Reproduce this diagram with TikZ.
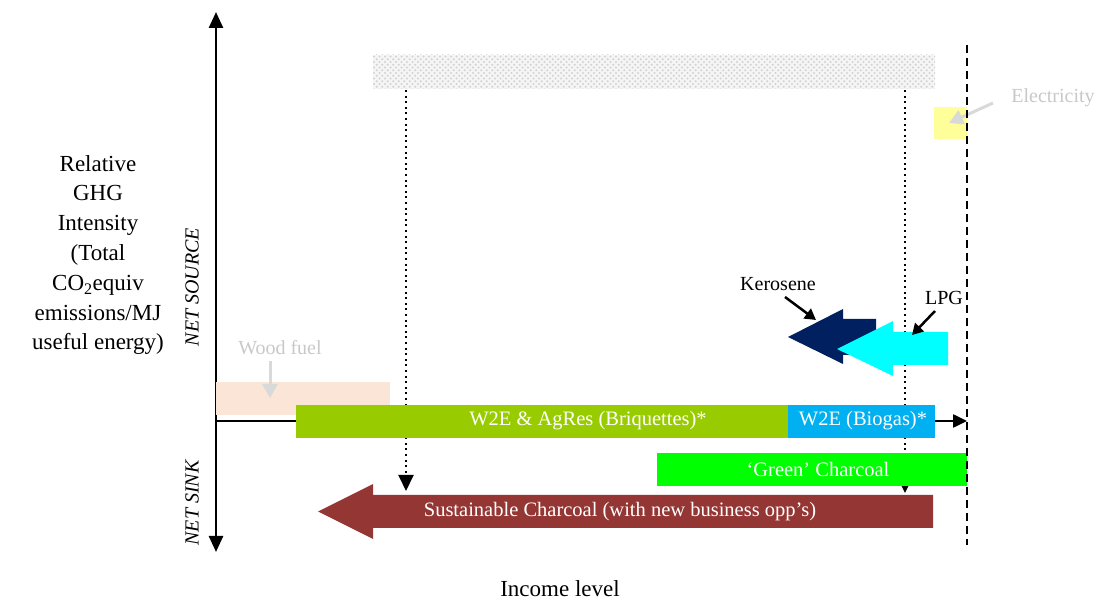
\documentclass[tikz,border=0pt]{standalone}
\usepackage{fontspec}
\setmainfont{Liberation Serif}
\usetikzlibrary{arrows.meta,patterns}
\definecolor{peach}{HTML}{FBE5D6}
\definecolor{elecyellow}{HTML}{FFFF99}
\definecolor{briqgreen}{HTML}{99CC00}
\definecolor{biogasblue}{HTML}{00B0F0}
\definecolor{greenchar}{HTML}{00FF00}
\definecolor{susbrown}{HTML}{943634}
\definecolor{keronavy}{HTML}{002060}
\definecolor{lpgcyan}{HTML}{00FFFF}
\definecolor{faintgray}{HTML}{C8C8C8}
\definecolor{arrowgray}{HTML}{D9D9D9}
\pgfdeclarepatternformonly{bigdots}{\pgfqpoint{-1pt}{-1pt}}{\pgfqpoint{6pt}{6pt}}{\pgfqpoint{5.5pt}{5.5pt}}{%
  \pgfpathcircle{\pgfqpoint{0pt}{0pt}}{1.1pt}\pgfusepath{fill}%
  \pgfpathcircle{\pgfqpoint{2.75pt}{2.75pt}}{1.1pt}\pgfusepath{fill}}
\tikzset{
  barbox/.style={draw=none, inner sep=0pt, outer sep=0pt, anchor=north west},
  bartext/.style={text=white, font=\fontsize{20.5}{24}\selectfont, inner sep=0pt},
  lbl/.style={font=\fontsize{20}{24}\selectfont, inner sep=0pt},
  faintlbl/.style={lbl, text=faintgray},
  axisline/.style={line width=2.5pt, -{Triangle[length=16pt,width=14pt]}},
  blackptr/.style={line width=2.5pt, -{Triangle[length=11pt,width=12pt]}},
  grayptr/.style={line width=3pt, draw=arrowgray, -{Triangle[length=14pt,width=15pt]}, arrowgray},
  dotline/.style={line width=2pt, dash pattern=on 2pt off 3.6pt, -{Triangle[length=16pt,width=15pt]}},
  dashline/.style={line width=2pt, dash pattern=on 8pt off 5pt},
}
\begin{document}
\begin{tikzpicture}[x=1pt,y=-1pt]
\useasboundingbox (0,0) rectangle (1096,601);

% axes
\coordinate (vtop) at (216,12);
\coordinate (vbot) at (216,552);
\coordinate (vmid) at (216,300);
\draw[axisline] (vmid) -- (vtop);
\draw[axisline] (vmid) -- (vbot);

% hatched band
\node[barbox, minimum width=562pt, minimum height=34pt, fill=gray!8] (bandbg) at (373,55) {};
\node[barbox, minimum width=562pt, minimum height=34pt, pattern=bigdots, pattern color=gray!35] (band) at (373,55) {};

% dotted lines
\coordinate (d1a) at (406,90);
\coordinate (d1b) at (406,491);
\coordinate (d2a) at (905,90);
\coordinate (d2b) at (905,493);
\draw[dotline] (d1a) -- (d1b);
\draw[dotline] (d2a) -- (d2b);

% dashed line
\coordinate (dsa) at (967,45);
\coordinate (dsb) at (967,545);

% wood fuel
\node[barbox, fill=peach, minimum width=174pt, minimum height=33pt] (wood) at (216,382) {};
\node[faintlbl] (woodlbl) at (280,348) {Wood fuel};
\coordinate (woodtip) at (270,398);
\draw[grayptr] (270,361) -- (woodtip);

% horizontal line
\coordinate (h0) at (216,421);
\coordinate (hend) at (967,421);
\draw[line width=2.5pt, -{Triangle[length=14pt,width=13pt]}] (h0) -- (hend);

% electricity
\node[barbox, fill=elecyellow, minimum width=33pt, minimum height=32pt] (elec) at (934,107) {};
\node[faintlbl] (eleclbl) at (1053,98) {Electricity};
\coordinate (electip) at (949,123);
\draw[grayptr] (993,103) -- (electip);

% bars
\node[barbox, fill=briqgreen, minimum width=492pt, minimum height=33pt] (briq) at (296,405) {};
\node[bartext] (briqlbl) at (588,421) {W2E \& AgRes (Briquettes)*};
\node[barbox, fill=biogasblue, minimum width=147pt, minimum height=33pt] (biogas) at (788,405) {};
\node[bartext] (biogaslbl) at (863,421) {W2E (Biogas)*};
\node[barbox, fill=greenchar, minimum width=310pt, minimum height=33pt] (gchar) at (657,453) {};
\node[bartext] (gcharlbl) at (818,469) {‘Green’ Charcoal};

% sustainable charcoal arrow
\fill[susbrown] (933,495) -- (373,495) -- (373,484) -- (318,511.5) -- (373,539) -- (373,528) -- (933,528) -- cycle;
\node[bartext] (suslbl) at (620,512) {Sustainable Charcoal (with new business opp’s)};

\draw[dashline] (dsa) -- (dsb);

% kerosene & LPG
\fill[keronavy] (788,337) -- (843,309) -- (843,319) -- (876,319) -- (876,355) -- (843,355) -- (843,364) -- cycle;
\fill[lpgcyan] (837,349) -- (893,321) -- (893,332) -- (948,332) -- (948,365) -- (893,365) -- (893,376) -- cycle;
\node[lbl] (kerolbl) at (778,284) {Kerosene};
\coordinate (kerotip) at (816,320);
\draw[blackptr] (785,297) -- (kerotip);
\node[lbl] (lpglbl) at (944,298) {LPG};
\coordinate (lpgtip) at (912,335);
\draw[blackptr] (935,311) -- (lpgtip);

% axis labels
\node[align=center, font=\fontsize{23}{29.8}\selectfont, inner sep=0pt] (ylbl) at (98,255)
  {Relative\\GHG\\Intensity\\(Total\\CO\textsubscript{2}equiv\\emissions/MJ\\useful energy)};
\node[rotate=90, font=\fontsize{20}{24}\itshape, inner sep=0pt] (srclbl) at (192,287) {NET SOURCE};
\node[rotate=90, font=\fontsize{20}{24}\itshape, inner sep=0pt] (sinklbl) at (192,503) {NET SINK};
\node[font=\fontsize{23}{27}\selectfont, inner sep=0pt] (xlbl) at (560,589) {Income level};
\end{tikzpicture}
\end{document}
